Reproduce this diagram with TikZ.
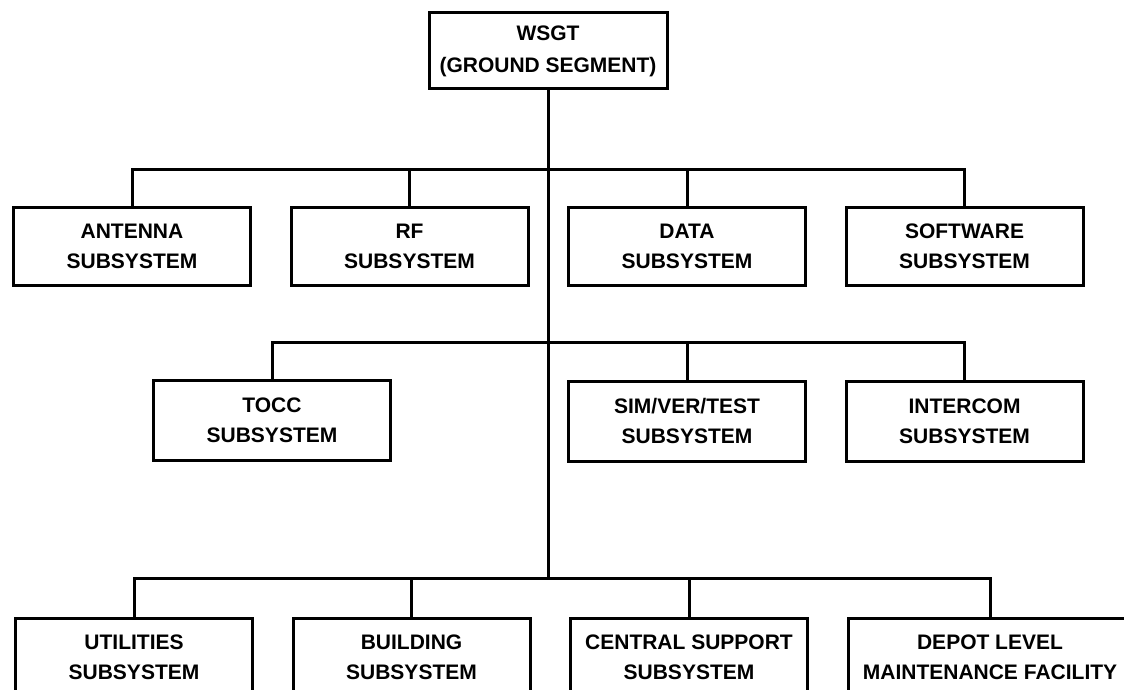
\documentclass[tikz,border=0pt]{standalone}
\usepackage{fontspec}
\setmainfont{Liberation Sans}
\usepackage{tikz}
\usetikzlibrary{positioning}
\tikzstyle{subsys}=[rectangle, draw, line width=1.5pt, minimum width=118.5pt, minimum height=39pt, inner sep=0pt, align=center, font=\fontsize{10.5}{15}\selectfont\bfseries]
\tikzstyle{bus}=[line width=1.5pt]

\begin{document}
\begin{tikzpicture}[x=0.5pt,y=-0.5pt,node distance=18.75pt]
	\useasboundingbox (0,0) rectangle (1124,690);

	%%% top box, ground segment
	\node[subsys,minimum width=119pt,minimum height=38pt,font=\fontsize{10.5}{16}\selectfont\bfseries] (wsgt) at (548,51) {WSGT\\(GROUND SEGMENT)};

	% bus heights on the trunk
	\coordinate (bus1) at (548,169);
	\coordinate (bus2) at (548,342);
	\coordinate (bus3) at (548,578);

	%%% first row
	\node[subsys] (antenna) at (132,246) {ANTENNA\\SUBSYSTEM};
	\node[subsys,right=of antenna] (rf) {RF\\SUBSYSTEM};
	\node[subsys,right=of rf] (data) {DATA\\SUBSYSTEM};
	\node[subsys,right=of data] (software) {SOFTWARE\\SUBSYSTEM};

	%%% second row
	\node[subsys,minimum height=40pt] (tocc) at (272,420) {TOCC\\SUBSYSTEM};
	\node[subsys,minimum height=40pt,below=46.5pt of data] (simvertest) {SIM/VER/TEST\\SUBSYSTEM};
	\node[subsys,minimum height=40pt,below=46.5pt of software] (intercom) {INTERCOM\\SUBSYSTEM};

	%%% third row, runs off the bottom edge
	\node[subsys,anchor=north] (utilities) at (134,617) {UTILITIES\\SUBSYSTEM};
	\node[subsys,right=of utilities] (building) {BUILDING\\SUBSYSTEM};
	\node[subsys,right=of building] (central) {CENTRAL SUPPORT\\SUBSYSTEM};
	\node[subsys,right=of central,minimum width=142pt] (depot) {DEPOT LEVEL\\MAINTENANCE FACILITY};

	% trunk
	\draw[bus] (wsgt.south) -- (bus3);

	% join lines, first row
	\draw[bus] (antenna.north) |- (bus1) -| (software.north);
	\draw[bus] (rf.north) -- (rf.north |- bus1);
	\draw[bus] (data.north) -- (data.north |- bus1);

	% join lines, second row
	\draw[bus] (tocc.north) |- (bus2) -| (intercom.north);
	\draw[bus] (simvertest.north) -- (simvertest.north |- bus2);

	% join lines, third row
	\draw[bus] (utilities.north) |- (bus3) -| (depot.north);
	\draw[bus] (building.north) -- (building.north |- bus3);
	\draw[bus] (central.north) -- (central.north |- bus3);
\end{tikzpicture}
\end{document}
